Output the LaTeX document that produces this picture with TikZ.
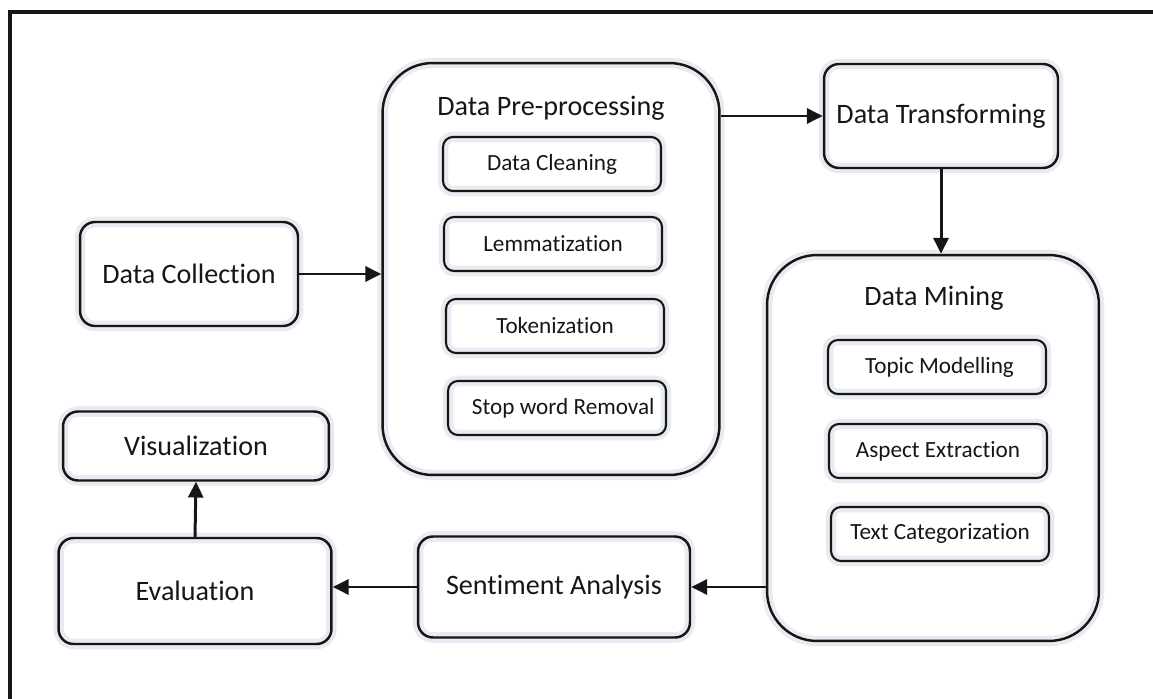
\documentclass[tikz,border=0pt]{standalone}
\usepackage{fontspec}
\setmainfont[Ligatures={NoCommon,NoRequired}]{Carlito}
\usetikzlibrary{arrows.meta, positioning}
\definecolor{ink}{RGB}{22,22,22}
\definecolor{halo}{RGB}{232,235,241}

\begin{document}
\begin{tikzpicture}[x=0.02cm, y=-0.02cm,
  stage/.style={draw=ink, line width=1.4pt, rounded corners=0.3cm, align=center,
    text=ink, font=\fontsize{16}{18}\selectfont,
    preaction={draw=halo, line width=6pt}},
  group/.style={stage, rounded corners=1cm},
  heading/.style={text=ink, font=\fontsize{16}{18}\selectfont},
  task/.style={stage, line width=1.2pt, rounded corners=0.2cm,
    font=\fontsize{13.2}{15}\selectfont, minimum width=4.36cm, minimum height=1.08cm},
  flow/.style={-{Triangle[length=9pt, width=8.5pt]}, draw=ink, line width=1.7pt}]
  \useasboundingbox (0,0) rectangle (1153,699);
  % frame
  \draw[ink, line width=2.2pt] (10,699) -- (10,12) -- (1153,12);

  % left column
  \node[stage, minimum width=4.36cm, minimum height=2.08cm] (collect) at (189,274) {Data Collection};
  \node[stage, minimum width=5.32cm, minimum height=1.38cm] (visual) at (196,446) {Visualization};
  \node[stage, minimum width=5.46cm, minimum height=2.12cm] (eval) at (195,591) {Evaluation};

  % pre-processing group
  \node[group, minimum width=6.74cm, minimum height=8.24cm] (prep) at (551,269) {};
  \node[heading] (prep title) at (551,108) {Data Pre-processing};
  \node[task] (clean) at (552,164) {Data Cleaning};
  \node[task] (lemma) at (553,244) {Lemmatization};
  \node[task] (token) at (555,326) {Tokenization};
  \node[task] (stopword) at (557,408) {\hspace*{0.25cm}Stop word Removal};

  % right column
  \node[stage, minimum width=4.68cm, minimum height=2.08cm] (transform) at (941,116) {Data Transforming};
  \node[group, minimum width=6.64cm, minimum height=7.72cm] (mining) at (933,448) {};
  \node[heading] (mining title) at (934,298) {Data Mining};
  \node[task] (topic) at (937,367) {\hspace*{0.1cm}Topic Modelling};
  \node[task] (aspect) at (938,451) {Aspect Extraction};
  \node[task] (categ) at (940,534) {Text Categorization};
  \node[stage, minimum width=5.44cm, minimum height=2.02cm] (senti) at (554,587) {Sentiment Analysis};

  % connectors
  \draw[flow] (collect.east) -- (prep.west |- collect.east);
  \draw[flow] (prep.east |- transform.west) -- (transform.west);
  \draw[flow] (transform.south) -- (transform.south |- mining.north);
  \draw[flow] (mining.west |- senti.east) -- (senti.east);
  \draw[flow] (senti.west) -- (eval.east |- senti.west);
  \draw[flow] (eval.north) -- (visual.south);
\end{tikzpicture}
\end{document}
